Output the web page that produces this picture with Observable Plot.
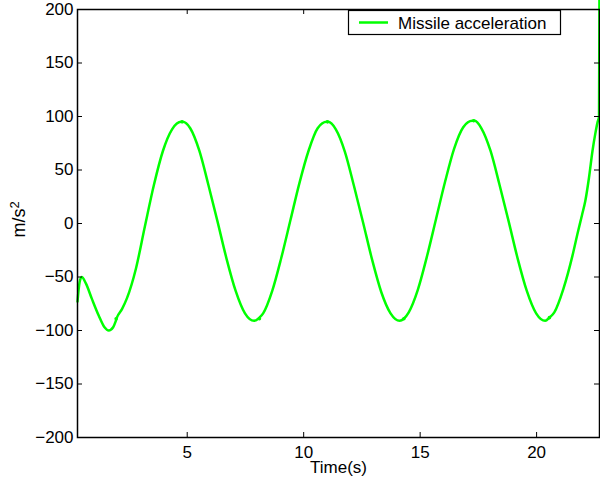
<!DOCTYPE html>
<html><head><meta charset="utf-8">
<script src="https://cdn.jsdelivr.net/npm/d3@7"></script>
<script src="https://cdn.jsdelivr.net/npm/@observablehq/plot@0.6"></script>
<style>body{margin:0;background:#fff}</style>
</head><body><div id="chart"></div>
<script>
// Time (s) and missile acceleration (m/s^2)
const time = [0.29,0.38,0.47,0.65,0.9,1.2,1.45,1.63,1.82,1.92,1.98,2.2,2.41,2.8,3.18,3.57,3.96,4.35,4.74,4.8,5.13,5.52,5.91,6.30,6.69,7.08,7.48,7.87,8.05,8.1,8.26,8.65,9.04,9.43,9.82,10.21,10.6,10.99,11.05,11.38,11.77,12.16,12.55,12.94,13.33,13.73,14.12,14.3,14.51,14.9,15.29,15.68,16.07,16.46,16.85,17.24,17.35,17.63,18.02,18.41,18.8,19.19,19.58,19.98,20.37,20.55,20.76,21.15,21.54,21.75,21.95,22.09,22.25,22.4,22.52,22.62,22.68,22.7];
const accel = [-73,-55,-50,-56,-70,-86,-97,-100,-97,-92,-88,-80,-70,-42,-3,36,68,88,95,95,89,68,36,2,-33,-63,-84,-91,-89,-88,-84,-63,-32,3,38,68,89,95,95,88,67,35,1,-34,-64,-84,-91,-89,-83,-62,-31,4,39,70,90,96,96,89,68,36,2,-33,-63,-84,-91,-88,-83,-61,-30,-10,8,21,43,68,84,95,100,230];
// small blips visible on the curve
const blipTime = [1.95,4.78,8.1,11.02,14.3,17.3,20.55];
const blipAccel = [-89,95,-89,95,-89,96,-88];
const xTicks = [5,10,15,20];
const yTicks = [-200,-150,-100,-50,0,50,100,150,200];
const xDomain = [0.29,22.7];
const yDomain = [-200,200];
const seriesName = "Missile acceleration";
const xLabel = "Time(s)";
const yLabelBase = "m/s";
const yLabelSup = "2";

const data = time.map((t,i)=>({t, a: accel[i]}));
const blips = blipTime.map((t,i)=>({t, a: blipAccel[i]}));
const W=600,H=485,mL=77,mR=1,mT=9,mB=48;
const fw=W-mL-mR, fh=H-mT-mB;
const green="#00ff00";
const font="'Liberation Sans', Arial, Helvetica, sans-serif";

const plot = Plot.plot({
  width:W, height:H, marginLeft:mL, marginRight:mR, marginTop:mT, marginBottom:mB,
  style:{fontFamily:font, fontSize:"17px", color:"black", background:"white"},
  x:{domain:xDomain}, y:{domain:yDomain},
  marks:[
    Plot.line(data,{x:"t",y:"a",stroke:green,strokeWidth:2.5,curve:"monotone-x"}),
    Plot.dot(blips,{x:"t",y:"a",r:1.8,fill:green}),
    Plot.tickY(yTicks,{y:d=>d,insetRight:fw-5,stroke:"black"}),
    Plot.tickY(yTicks,{y:d=>d,insetLeft:fw-5,stroke:"black"}),
    Plot.tickX(xTicks,{x:d=>d,insetTop:fh-5,stroke:"black"}),
    Plot.tickX(xTicks,{x:d=>d,insetBottom:fh-5,stroke:"black"}),
    Plot.frame({stroke:"black",strokeWidth:1.5}),
    Plot.axisX({ticks:xTicks,tickSize:0,tickPadding:8,label:null}),
    Plot.axisY({ticks:yTicks,tickSize:0,tickPadding:4,label:null}),
    Plot.text([xLabel],{frameAnchor:"bottom",dy:35,fontSize:17}),
    Plot.text([yLabelBase],{frameAnchor:"left",dx:-58,dy:14,rotate:-90,fontSize:18,className:"ylab"})
  ]
});
document.getElementById("chart").append(plot);

const svg = d3.select(plot.tagName.toLowerCase()==="svg"?plot:plot.querySelector("svg"));
// superscript on the y label
svg.selectAll(".ylab text").each(function(){
  const t = d3.select(this);
  t.text(null);
  t.append("tspan").text(yLabelBase);
  t.append("tspan").attr("dy","-0.45em").attr("font-size",13).text(yLabelSup);
});
// legend box inside the axes, top right
const lg = svg.append("g");
lg.append("rect").attr("x",348.5).attr("y",10.5).attr("width",212).attr("height",24)
  .attr("fill","white").attr("stroke","black").attr("stroke-width",1.2);
lg.append("line").attr("x1",359).attr("x2",388).attr("y1",22.5).attr("y2",22.5)
  .attr("stroke",green).attr("stroke-width",2.5);
lg.append("text").attr("x",398).attr("y",28.5).attr("font-size",17)
  .attr("text-anchor","start")
  .attr("font-family",font).attr("fill","black").text(seriesName);
</script>
</body></html>
